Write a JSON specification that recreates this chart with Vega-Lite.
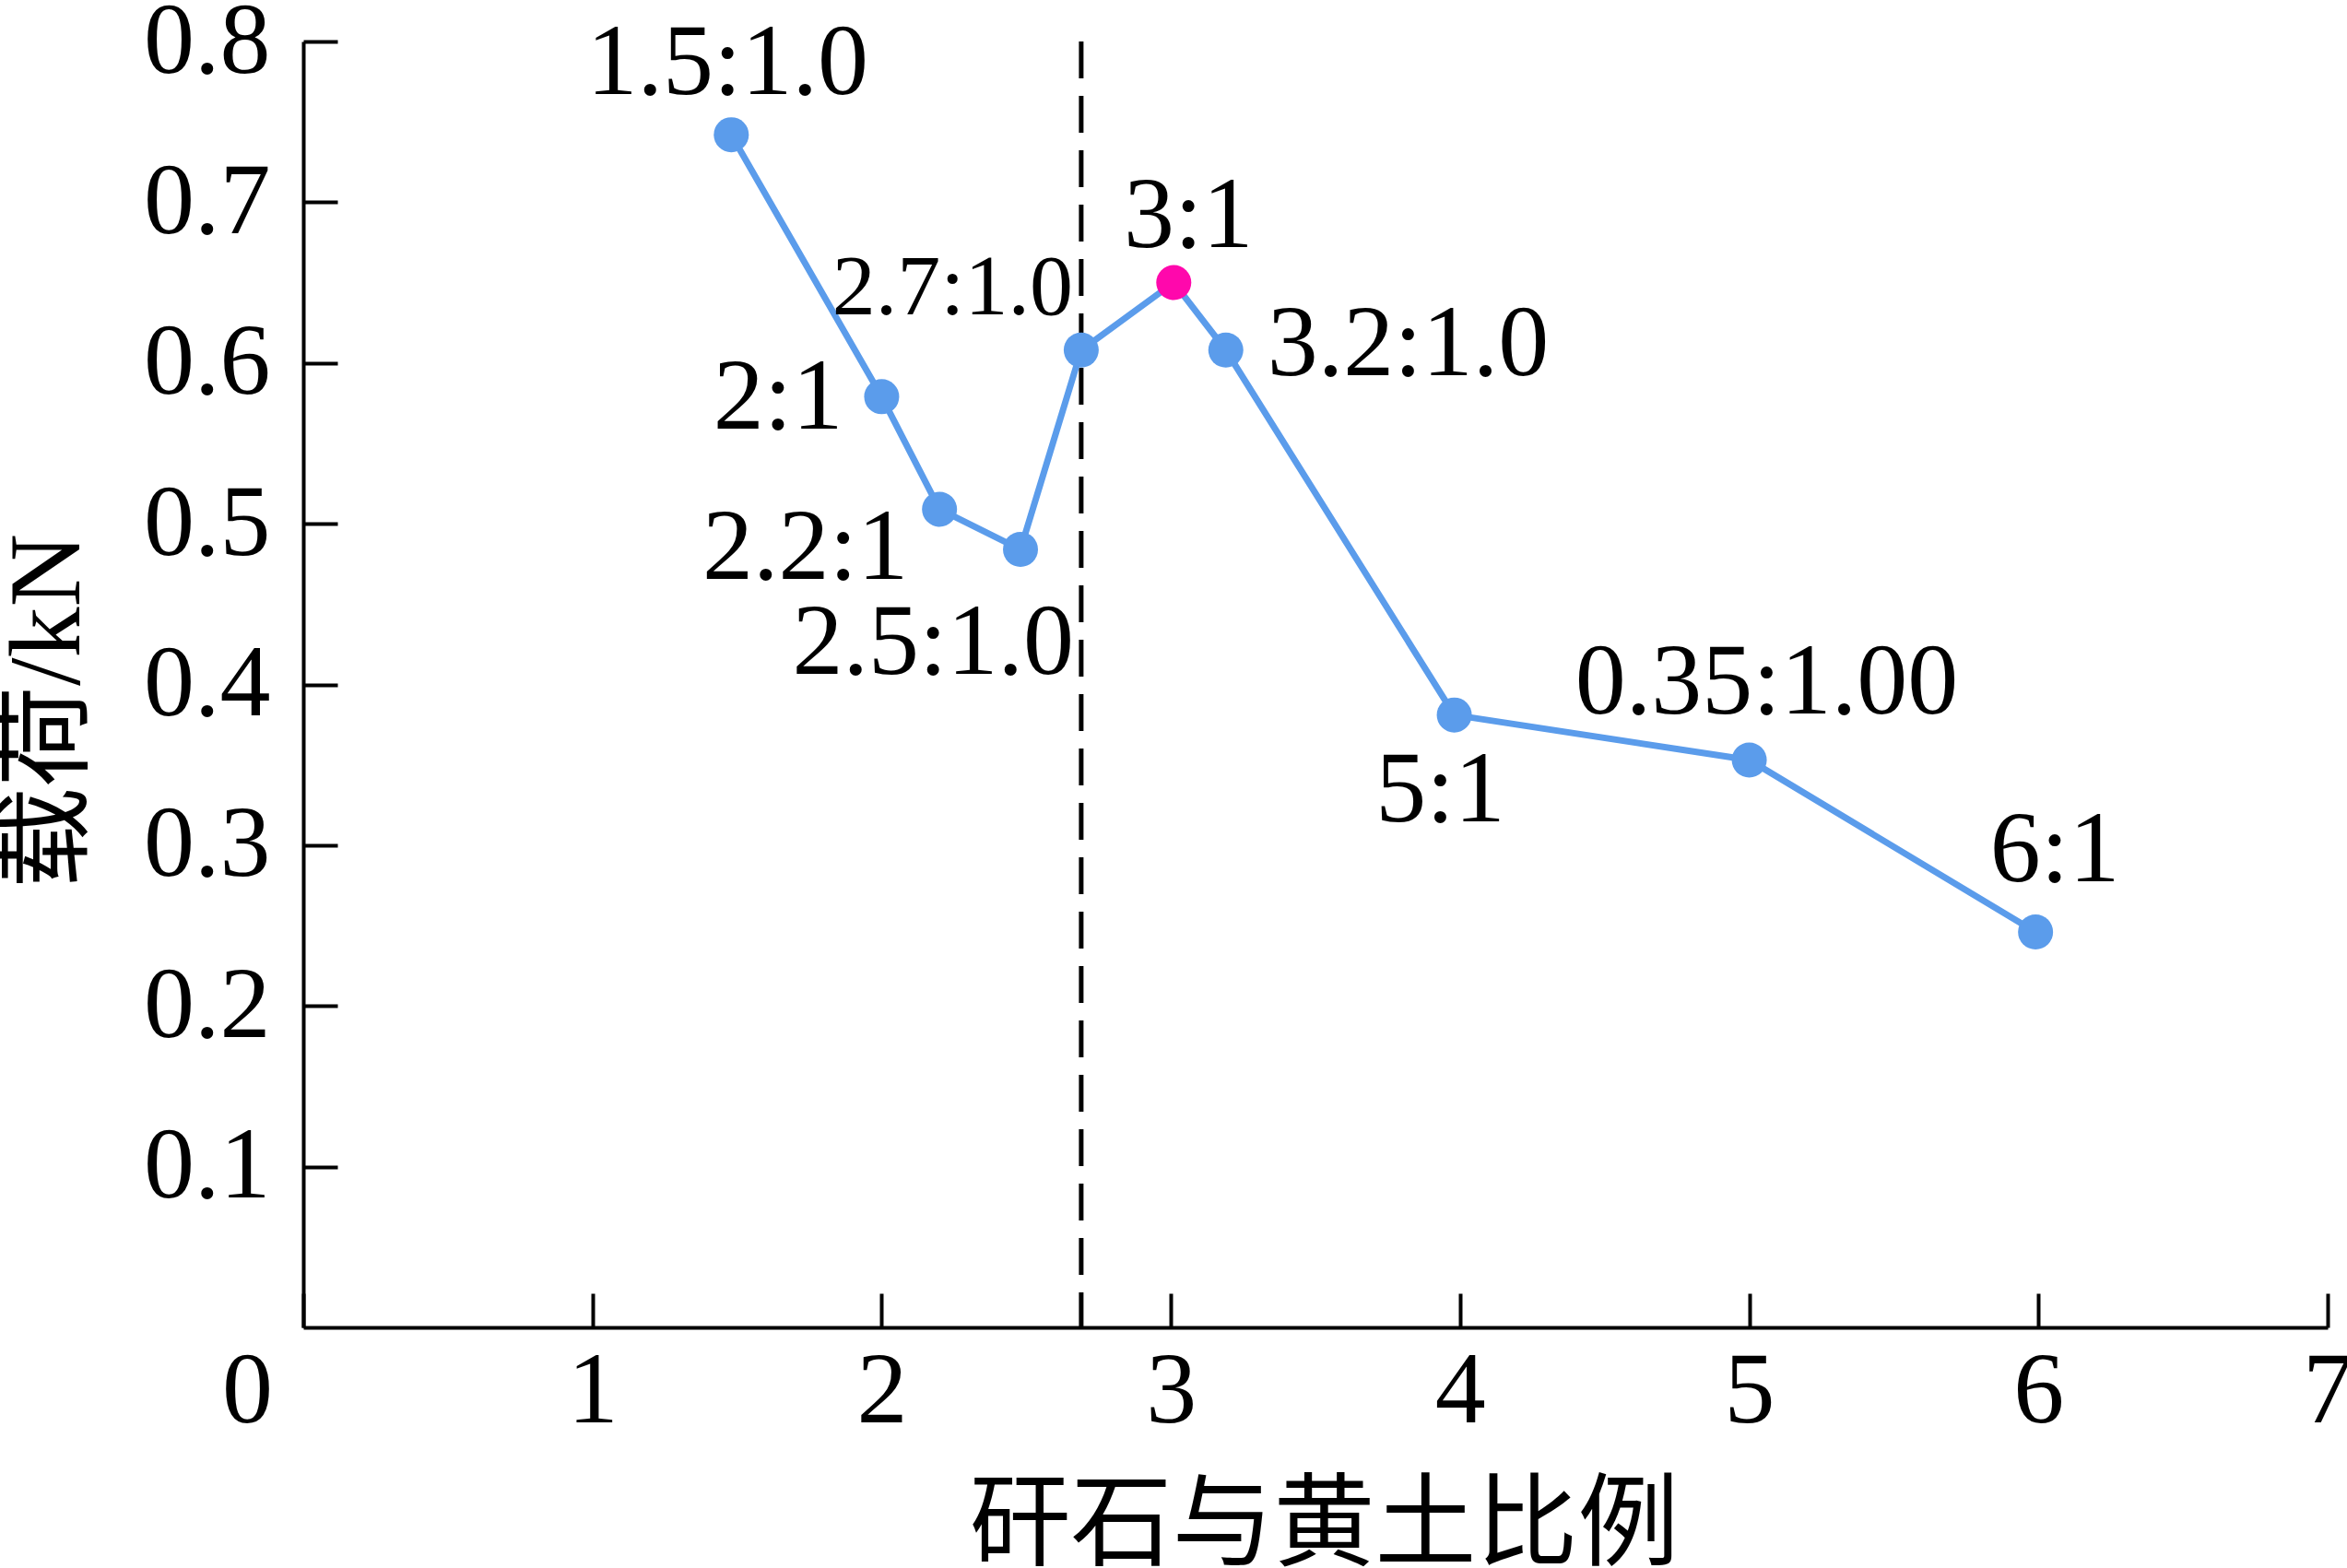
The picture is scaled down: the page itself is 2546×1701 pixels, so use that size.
{
  "$schema": "https://vega.github.io/schema/vega-lite/v6.json",
  "width": 2196,
  "height": 1395,
  "autosize": "none",
  "padding": {"left": 329, "top": 45, "right": 21, "bottom": 261},
  "background": "white",
  "config": {
    "view": {"stroke": null},
    "axis": {
      "grid": false,
      "domainColor": "black",
      "domainWidth": 4,
      "tickColor": "black",
      "tickWidth": 4,
      "tickSize": -37,
      "labelFont": "Liberation Serif",
      "labelFontSize": 110,
      "labelColor": "black",
      "titleFont": "Liberation Serif, Noto Sans CJK SC",
      "titleColor": "black",
      "titleFontWeight": "normal"
    }
  },
  "datasets": {
    "pts": [
      {"ratio": 1.48, "load": 0.742, "label": "1.5:1.0"},
      {"ratio": 2.0, "load": 0.579, "label": "2:1"},
      {"ratio": 2.2, "load": 0.509, "label": "2.2:1"},
      {"ratio": 2.48, "load": 0.484, "label": "2.5:1.0"},
      {"ratio": 2.69, "load": 0.608, "label": "2.7:1.0"},
      {"ratio": 3.01, "load": 0.65, "label": "3:1"},
      {"ratio": 3.19, "load": 0.608, "label": "3.2:1.0"},
      {"ratio": 3.98, "load": 0.381, "label": "5:1"},
      {"ratio": 5.0, "load": 0.353, "label": "0.35:1.00"},
      {"ratio": 5.99, "load": 0.246, "label": "6:1"}
    ]
  },
  "data": {"name": "pts"},
  "encoding": {
    "x": {
      "field": "ratio", "type": "quantitative",
      "scale": {"domain": [0, 7], "nice": false, "zero": true},
      "axis": {
        "title": "矸石与黄土比例",
        "values": [0, 1, 2, 3, 4, 5, 6, 7],
        "format": "d",
        "labelPadding": 52,
        "labelBaseline": "top",
        "labelOffset": {"expr": "datum.value === 0 ? -61 : 0"},
        "labelFlush": false,
        "labelOverlap": false,
        "titleFontSize": 110,
        "titleX": 1107,
        "titleY": 249,
        "titleAlign": "center",
        "titleBaseline": "alphabetic",
        "titleAnchor": null
      }
    },
    "y": {
      "field": "load", "type": "quantitative",
      "scale": {"domain": [0, 0.8], "nice": false},
      "axis": {
        "title": "载荷/kN",
        "values": [0.1, 0.2, 0.3, 0.4, 0.5, 0.6, 0.7, 0.8],
        "format": ".1f",
        "labelPadding": 73,
        "labelAlign": "right",
        "labelBaseline": "middle",
        "labelFlush": false,
        "labelOverlap": false,
        "titleFontSize": 110,
        "titleAngle": -90,
        "titleX": -277,
        "titleY": 726,
        "titleAlign": "center",
        "titleBaseline": "middle"
      }
    }
  },
  "layer": [
    {
      "data": {"values": [{"ratio": 2.69}]},
      "mark": {"type": "rule", "color": "black", "strokeWidth": 5, "strokeDash": [40, 19]},
      "encoding": {"x": {"field": "ratio", "type": "quantitative"}, "y": null}
    },
    {
      "mark": {"type": "line", "color": "#5B9CEB", "strokeWidth": 7},
      "encoding": {"order": {"field": "ratio", "type": "quantitative"}}
    },
    {
      "mark": {"type": "point", "filled": true, "opacity": 1, "size": 1444, "shape": "circle"},
      "encoding": {
        "color": {
          "condition": {"test": "datum.label === '3:1'", "value": "#FF08AC"},
          "value": "#5B9CEB"
        }
      }
    },
    {
      "transform": [{"filter": "datum.label === '1.5:1.0'"}],
      "mark": {"type": "text", "font": "Liberation Serif", "fontSize": 110, "color": "black", "align": "center", "baseline": "alphabetic", "dx": -4, "dy": -44},
      "encoding": {"text": {"field": "label"}}
    },
    {
      "transform": [{"filter": "datum.label === '2:1'"}],
      "mark": {"type": "text", "font": "Liberation Serif", "fontSize": 110, "color": "black", "align": "right", "baseline": "alphabetic", "dx": -42, "dy": 35},
      "encoding": {"text": {"field": "label"}}
    },
    {
      "transform": [{"filter": "datum.label === '2.2:1'"}],
      "mark": {"type": "text", "font": "Liberation Serif", "fontSize": 110, "color": "black", "align": "right", "baseline": "alphabetic", "dx": -34, "dy": 76},
      "encoding": {"text": {"field": "label"}}
    },
    {
      "transform": [{"filter": "datum.label === '2.5:1.0'"}],
      "mark": {"type": "text", "font": "Liberation Serif", "fontSize": 110, "color": "black", "align": "right", "baseline": "alphabetic", "dx": 58, "dy": 135},
      "encoding": {"text": {"field": "label"}}
    },
    {
      "transform": [{"filter": "datum.label === '2.7:1.0'"}],
      "mark": {"type": "text", "font": "Liberation Serif", "fontSize": 94, "color": "black", "align": "right", "baseline": "alphabetic", "dx": -9, "dy": -39},
      "encoding": {"text": {"field": "label"}}
    },
    {
      "transform": [{"filter": "datum.label === '3:1'"}],
      "mark": {"type": "text", "font": "Liberation Serif", "fontSize": 110, "color": "black", "align": "center", "baseline": "alphabetic", "dx": 16, "dy": -39},
      "encoding": {"text": {"field": "label"}}
    },
    {
      "transform": [{"filter": "datum.label === '3.2:1.0'"}],
      "mark": {"type": "text", "font": "Liberation Serif", "fontSize": 110, "color": "black", "align": "left", "baseline": "alphabetic", "dx": 45, "dy": 27},
      "encoding": {"text": {"field": "label"}}
    },
    {
      "transform": [{"filter": "datum.label === '5:1'"}],
      "mark": {"type": "text", "font": "Liberation Serif", "fontSize": 110, "color": "black", "align": "center", "baseline": "alphabetic", "dx": -15, "dy": 115},
      "encoding": {"text": {"field": "label"}}
    },
    {
      "transform": [{"filter": "datum.label === '0.35:1.00'"}],
      "mark": {"type": "text", "font": "Liberation Serif", "fontSize": 110, "color": "black", "align": "center", "baseline": "alphabetic", "dx": 19, "dy": -50},
      "encoding": {"text": {"field": "label"}}
    },
    {
      "transform": [{"filter": "datum.label === '6:1'"}],
      "mark": {"type": "text", "font": "Liberation Serif", "fontSize": 110, "color": "black", "align": "center", "baseline": "alphabetic", "dx": 21, "dy": -55},
      "encoding": {"text": {"field": "label"}}
    }
  ]
}
